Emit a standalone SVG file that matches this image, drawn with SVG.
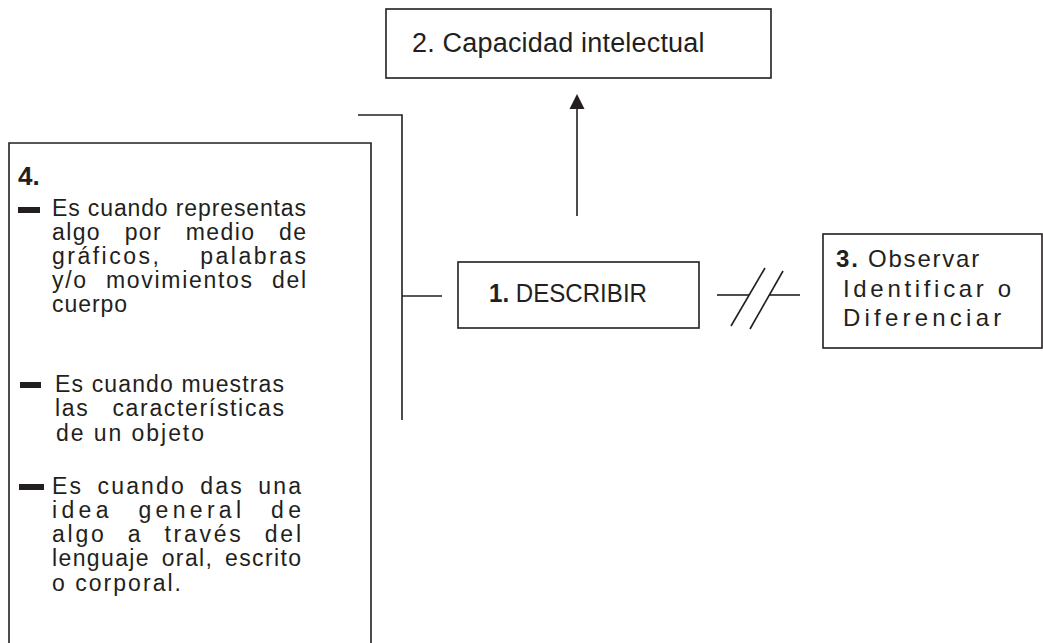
<svg xmlns="http://www.w3.org/2000/svg" width="1043" height="643" viewBox="0 0 1043 643">
<style>
  .box{fill:none;stroke:#231f20;stroke-width:1.6}
  .ln{fill:none;stroke:#231f20;stroke-width:1.6}
  .t{font-family:"Liberation Sans",Arial,sans-serif;font-size:24px;fill:#231f20;letter-spacing:0.8px}
  .s{font-size:23px;letter-spacing:1px}
  .b{font-weight:bold}
  .dash{fill:#231f20}
</style>
<rect width="1043" height="643" fill="#ffffff"/>
<g id="node-capacidad">
  <rect class="box" x="386" y="9" width="385" height="69"/>
  <text class="t" x="412" y="52" style="font-size:27px;letter-spacing:0.5px" textLength="293" lengthAdjust="spacing">2. Capacidad intelectual</text>
</g>
<g id="node-describir">
  <rect class="box" x="458" y="262" width="241" height="66"/>
  <text class="t" x="489" y="302" style="font-size:25px;letter-spacing:0" textLength="158" lengthAdjust="spacingAndGlyphs"><tspan class="b">1.</tspan> DESCRIBIR</text>
</g>
<g id="node-observar">
  <rect class="box" x="823" y="234" width="219" height="114"/>
  <text class="t" x="836" y="267" textLength="144" lengthAdjust="spacing"><tspan class="b">3.</tspan> Observar</text>
  <text class="t" x="843" y="297" textLength="169" lengthAdjust="spacing">Identificar o</text>
  <text class="t" x="843" y="326" textLength="159" lengthAdjust="spacing">Diferenciar</text>
</g>
<g id="node-definiciones">
  <path class="box" d="M9,660 V143 H371 V660"/>
  <text class="t b" x="18" y="185" style="font-size:26px;letter-spacing:0">4.</text>
  <rect class="dash" x="18" y="207" width="22" height="6"/>
  <text class="t s" x="52" y="216" textLength="255" lengthAdjust="spacing">Es cuando representas</text>
  <text class="t s" x="52" y="240" word-spacing="16" textLength="255" lengthAdjust="spacing">algo por medio de</text>
  <text class="t s" x="52" y="264" word-spacing="30" textLength="255" lengthAdjust="spacing">gráficos, palabras</text>
  <text class="t s" x="52" y="288" word-spacing="10" textLength="255" lengthAdjust="spacing">y/o movimientos del</text>
  <text class="t s" x="52" y="312" textLength="76" lengthAdjust="spacing">cuerpo</text>
  <rect class="dash" x="20" y="382" width="21" height="6"/>
  <text class="t s" x="55" y="392" textLength="230" lengthAdjust="spacing">Es cuando muestras</text>
  <text class="t s" x="55" y="416" word-spacing="15" textLength="230" lengthAdjust="spacing">las características</text>
  <text class="t s" x="56" y="441" textLength="149" lengthAdjust="spacing">de un objeto</text>
  <rect class="dash" x="19" y="484" width="25" height="6"/>
  <text class="t s" x="52" y="494" word-spacing="6" textLength="250" lengthAdjust="spacing">Es cuando das una</text>
  <text class="t s" x="52" y="518" word-spacing="15" textLength="250" lengthAdjust="spacing">idea general de</text>
  <text class="t s" x="52" y="542" word-spacing="12" textLength="250" lengthAdjust="spacing">algo a través del</text>
  <text class="t s" x="52" y="566" word-spacing="4" textLength="250" lengthAdjust="spacing">lenguaje oral, escrito</text>
  <text class="t s" x="52" y="591" textLength="130" lengthAdjust="spacing">o corporal.</text>
</g>
<g id="connectors">
  <path class="ln" d="M358,115 H402 V420"/>
  <path class="ln" d="M402,296 H442"/>
  <line class="ln" x1="577" y1="216" x2="577" y2="106"/>
  <polygon class="dash" points="577,94 569.5,109 584.5,109"/>
  <path class="ln" d="M717,295 H749"/>
  <path class="ln" d="M769,295 H800"/>
  <path class="ln" d="M731,326 L765,268"/>
  <path class="ln" d="M750,329 L783,271"/>
</g>
</svg>
